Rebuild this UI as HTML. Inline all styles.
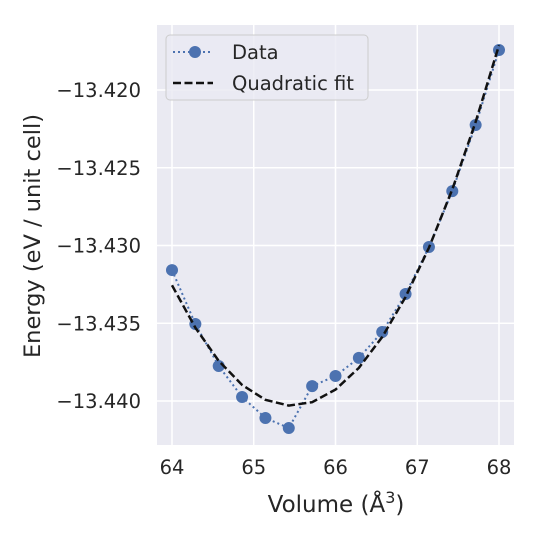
<!DOCTYPE html>
<html><head><meta charset="utf-8"><style>
body{margin:0;background:#fff}
svg text{font-family:"DejaVu Sans","Liberation Sans",sans-serif;fill:#262626}
</style></head><body>
<svg id="chart" width="540" height="540" xmlns="http://www.w3.org/2000/svg">
<rect x="157" y="25" width="357" height="420" fill="#eaeaf2"/>
<g id="grid"></g><g id="series"></g><g id="axes"></g>
<g>
<rect x="166" y="35" width="202" height="65" rx="4" fill="#eaeaf2" fill-opacity="0.8" stroke="#ccc" stroke-width="1"/>
<line x1="173" y1="52" x2="213" y2="52" stroke="#4c72b0" stroke-width="2" stroke-dasharray="2,3"/>
<circle cx="195" cy="52" r="6" fill="#4c72b0"/>
<text x="232" y="59" font-size="19.5">Data</text>
<line x1="173" y1="83" x2="213" y2="83" stroke="#111" stroke-width="2.5" stroke-dasharray="8,3.5"/>
<text x="232" y="90" font-size="19.5">Quadratic fit</text>
</g>
<text x="336" y="512" font-size="23" text-anchor="middle">Volume (Å<tspan dy="-9" font-size="16">3</tspan><tspan dy="9">)</tspan></text>
<text transform="translate(40,236) rotate(-90)" font-size="22.5" text-anchor="middle">Energy (eV / unit cell)</text>
</svg>
<script>
const volumes=[64,64.2857,64.5714,64.8571,65.1429,65.4286,65.7143,66,66.2857,66.5714,66.8571,67.1429,67.4286,67.7143,68];
const energies=[-13.43158,-13.43505,-13.43775,-13.43974,-13.44109,-13.44174,-13.43904,-13.43839,-13.43723,-13.43556,-13.43312,-13.43010,-13.42650,-13.42225,-13.41743];
const xTicks=[64,65,66,67,68];
const yTicks=[-13.420,-13.425,-13.430,-13.435,-13.440];
const NS="http://www.w3.org/2000/svg";
function X(v){return 172+(v-64)*81.75;}
function Y(e){return 90+(-13.420-e)/0.005*77.75;}
function mk(t,a,p){const el=document.createElementNS(NS,t);for(const k in a)el.setAttribute(k,a[k]);p.appendChild(el);return el;}
const grid=document.getElementById('grid'),axes=document.getElementById('axes'),ser=document.getElementById('series');
xTicks.forEach(t=>{
 const l=mk('line',{x1:X(t),x2:X(t),y1:25,y2:445,stroke:'#fff','stroke-width':1.5},grid);
 
 
 const tx=mk('text',{x:X(t),y:474,'font-size':19.5,'text-anchor':'middle'},axes);tx.textContent=t;
 
 
});
yTicks.forEach(t=>{
 const l=mk('line',{x1:157,x2:514,y1:Y(t),y2:Y(t),stroke:'#fff','stroke-width':1.5},grid);
 
 
 const tx=mk('text',{x:141,y:Y(t)+7,'font-size':19.5,'text-anchor':'end'},axes);tx.textContent='\u2212'+Math.abs(t).toFixed(3);
 
 
});
let S=[0,0,0,0,0],T=[0,0,0];
volumes.forEach((v,i)=>{const u=v-66;for(let k=0;k<5;k++)S[k]+=Math.pow(u,k);for(let k=0;k<3;k++)T[k]+=energies[i]*Math.pow(u,k);});
const M=[[S[0],S[1],S[2],T[0]],[S[1],S[2],S[3],T[1]],[S[2],S[3],S[4],T[2]]];
for(let i=0;i<3;i++){for(let j=i+1;j<3;j++){const f=M[j][i]/M[i][i];for(let k=i;k<4;k++)M[j][k]-=f*M[i][k];}}
const c=[0,0,0];for(let i=2;i>=0;i--){let s=M[i][3];for(let k=i+1;k<3;k++)s-=M[i][k]*c[k];c[i]=s/M[i][i];}
const fit=volumes.map(v=>{const u=v-66;return c[0]+c[1]*u+c[2]*u*u;});
const dl=mk('polyline',{points:volumes.map((v,i)=>X(v)+','+Y(energies[i])).join(' '),fill:'none',stroke:'#4c72b0','stroke-width':2,'stroke-dasharray':'2,3'},ser);


const fl=mk('polyline',{points:volumes.map((v,i)=>X(v)+','+Y(fit[i])).join(' '),fill:'none',stroke:'#111','stroke-width':2.5,'stroke-dasharray':'8,3.5'},ser);


volumes.forEach((v,i)=>{
 const p=mk('circle',{cx:X(v),cy:Y(energies[i]),r:6,fill:'#4c72b0'},ser);
 
 
});
ser.appendChild(fl);
</script>
</body></html>
